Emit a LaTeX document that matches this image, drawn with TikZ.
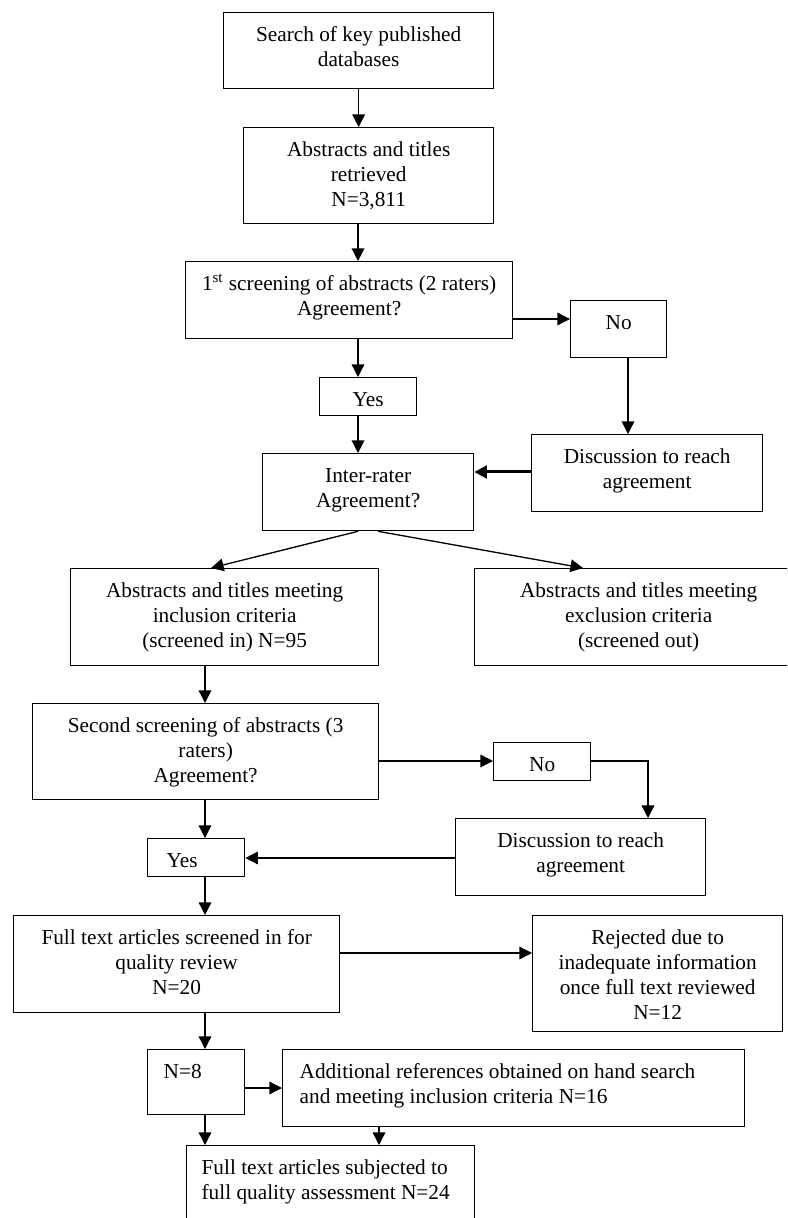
\documentclass[tikz,border=0pt]{standalone}
\usepackage{fontspec}
\setmainfont{Liberation Serif}
\usetikzlibrary{arrows.meta}
\newcommand\bxt[4]{\parbox[c][\dimexpr #2pt/2\relax][t]{\dimexpr #1pt/2\relax}{\vspace*{5.75pt}#3\strut #4\par}}
\newcommand\ctr{\centering}
\newcommand\lft[1]{\raggedright\leftskip=#1\relax}
\tikzset{
  box/.style={draw, line width=0.65pt, inner sep=0pt, anchor=north west,
    font=\fontsize{10.65pt}{12.5pt}\selectfont},
  arr/.style={line width=0.65pt, -{Triangle[length=6.3pt,width=6.3pt]}},
  thickarr/.style={line width=1.5pt, -{Triangle[length=6.3pt,width=6.3pt]}}
}
\begin{document}
\begin{tikzpicture}[x=0.5pt,y=-0.5pt]
\useasboundingbox (0,0) rectangle (787,1218);
\clip (0,0) rectangle (787,1218);
% column / row helper coordinates
\coordinate (cA) at (358,0);
\coordinate (cB) at (628,0);
\coordinate (cC) at (205,0);
\coordinate (cD) at (648,0);
\coordinate (cE) at (379,0);
\coordinate (cL) at (211,0);
\coordinate (cR) at (583,0);
\coordinate (cS) at (378,0);
\coordinate (rA) at (0,319);
\coordinate (rB) at (0,472);
\coordinate (rC) at (0,761);
\coordinate (rD) at (0,858);
\coordinate (rE) at (0,953);
\coordinate (rF) at (0,1088);
% boxes
\node[box] (search) at (223,12) {\bxt{270}{76}{\ctr}{Search of key published\\databases}};
\node[box] (abstracts) at (243,127) {\bxt{250}{96}{\ctr}{Abstracts and titles\\retrieved\\N=3,811}};
\node[box] (screen1) at (185,261) {\bxt{327}{77}{\ctr}{1\textsuperscript{st} screening of abstracts (2 raters)\\Agreement?}};
\node[box] (no1) at (570,300) {\bxt{96}{57}{\ctr}{No}};
\node[box] (yes1) at (319,377) {\bxt{97}{38}{\ctr}{Yes}};
\node[box] (inter) at (262,453) {\bxt{211}{77}{\ctr}{Inter-rater\\Agreement?}};
\node[box] (disc1) at (531,434) {\bxt{231}{77}{\ctr}{Discussion to reach\\agreement}};
\node[box] (incl) at (70,568) {\bxt{308}{97}{\ctr}{Abstracts and titles meeting\\inclusion criteria\\(screened in) N=95}};
\node[box] (excl) at (474,568) {\bxt{328}{97}{\ctr}{Abstracts and titles meeting\\exclusion criteria\\(screened out)}};
\node[box] (second) at (32,703) {\bxt{346}{96}{\ctr}{Second screening of abstracts (3\\raters)\\Agreement?}};
\node[box] (no2) at (493,742) {\bxt{97}{38}{\ctr}{No}};
\node[box] (disc2) at (455,818) {\bxt{250}{77}{\ctr}{Discussion to reach\\agreement}};
\node[box] (yes2) at (147,838) {\bxt{97}{38}{\lft{9.5pt}}{Yes}};
\node[box] (full) at (13,915) {\bxt{326}{97}{\ctr}{Full text articles screened in for\\quality review\\N=20}};
\node[box] (rejected) at (532,915) {\bxt{250}{116}{\ctr}{Rejected due to\\inadequate information\\once full text reviewed\\N=12}};
\node[box] (n8) at (147,1049) {\bxt{97}{65}{\lft{8pt}}{N=8}};
\node[box] (additional) at (282,1049) {\bxt{462}{77}{\lft{8.5pt}}{Additional references obtained on hand search\\and meeting inclusion criteria N=16}};
\node[box] (final) at (186,1145) {\bxt{288}{110}{\lft{7.5pt}}{Full text articles subjected to\\full quality assessment N=24}};
% connectors
\draw[arr] (search.south) -- (abstracts.north -| search.south);
\draw[arr] (abstracts.south -| cA) -- (screen1.north -| cA);
\draw[arr] (screen1.east |- rA) -- (no1.west |- rA);
\draw[arr] (screen1.south -| cA) -- (yes1.north -| cA);
\draw[arr] (no1.south -| cB) -- (disc1.north -| cB);
\draw[arr] (yes1.south -| cA) -- (inter.north -| cA);
\draw[thickarr] (disc1.west |- rB) -- (inter.east |- rB);
\draw[arr] (inter.south -| cA) -- (incl.north -| cL);
\draw[arr] (inter.south -| cS) -- (excl.north -| cR);
\draw[arr] (incl.south -| cC) -- (second.north -| cC);
\draw[arr] (second.east |- rC) -- (no2.west |- rC);
\draw[arr] (no2.east |- rC) -| (disc2.north -| cD);
\draw[arr] (second.south -| cC) -- (yes2.north -| cC);
\draw[arr] (disc2.west |- rD) -- (yes2.east |- rD);
\draw[arr] (yes2.south -| cC) -- (full.north -| cC);
\draw[arr] (full.east |- rE) -- (rejected.west |- rE);
\draw[arr] (full.south -| cC) -- (n8.north -| cC);
\draw[arr] (n8.east |- rF) -- (additional.west |- rF);
\draw[arr] (n8.south -| cC) -- (final.north -| cC);
\draw[arr] (additional.south -| cE) -- (final.north -| cE);
\end{tikzpicture}
\end{document}
